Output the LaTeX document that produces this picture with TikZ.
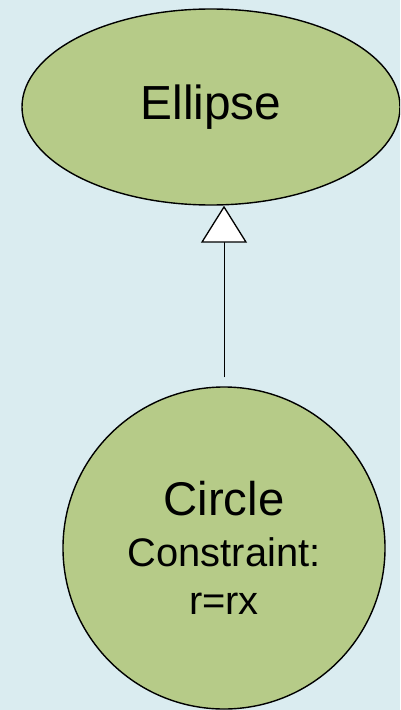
\documentclass[tikz,border=0pt]{standalone}
\usepackage{fontspec}
\setmainfont{Liberation Sans}
\usepackage{xcolor}
\usetikzlibrary{shapes.geometric, arrows.meta, positioning}

\definecolor{paleblue}{RGB}{218,236,240}
\definecolor{leafgreen}{RGB}{182,203,136}

\begin{document}
\begin{tikzpicture}[
    x=1bp, y=-1bp,
    classnode/.style={draw, line width=1.4bp, fill=leafgreen, inner sep=0pt,
                align=center},
    inherit/.style={-{Triangle[width=46bp, length=37bp, fill=white, line width=1.3bp]},
                line width=1bp, shorten <=9bp}
]

% === BACKGROUND ===
\fill[paleblue] (0,0) rectangle (400,710);
\useasboundingbox (0,0) rectangle (400,710);
\clip (0,0) rectangle (400,710);

% === CLASSES ===
\node[classnode, ellipse, minimum width=378bp, minimum height=196bp,
      font=\fontsize{48}{52}\selectfont] (super) at (211,107) {Ellipse};
\node[classnode, circle, minimum size=322bp,
      font=\fontsize{40}{50}\selectfont] (sub) at (224,548)
    {{\fontsize{47.5}{50}\selectfont Circle}\\[1bp]
     Constraint:\\[-1bp]
     r=rx};

% === GENERALISATION ===
\draw[inherit] (sub.north) -- (sub.north |- super.south);

\end{tikzpicture}
\end{document}
